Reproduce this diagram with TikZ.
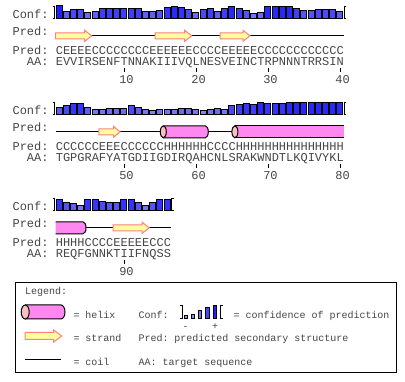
\documentclass[tikz,border=0pt]{standalone}
\usepackage{fontspec}
\setmonofont{Liberation Mono}
\definecolor{txt}{RGB}{70,70,70}
\definecolor{hfill}{RGB}{255,136,240}
\definecolor{hcap}{RGB}{248,192,192}
\definecolor{sfill}{RGB}{255,255,160}
\definecolor{sline}{RGB}{255,128,128}
\tikzset{
  mono/.style={font=\ttfamily\fontsize{12}{12}\selectfont, text=txt, inner sep=0pt, anchor=base west},
  lmono/.style={font=\ttfamily\fontsize{10}{10}\selectfont, text=txt, inner sep=0pt, anchor=base west},
  numlab/.style={font=\ttfamily\fontsize{12}{12}\selectfont, text=txt, inner sep=0pt, anchor=base},
  confbar/.style={draw=black, line width=0.8pt},
  brk/.style={draw=black, line width=0.8pt},
  coil/.style={draw=black, line width=1pt},
  tickmark/.style={draw=black, line width=1pt},
  strandarrow/.style={fill=sfill, draw=sline, line width=1pt, line join=miter},
  helixline/.style={draw=black, line width=1pt},
}
\newcommand\confrow[2]{%
  \foreach \h [count=\i] in {#2} {%
    \pgfmathsetmacro\xa{55.6+(\i-1)*7.2+0.4}%
    \pgfmathsetmacro\xb{\xa+6}%
    \pgfmathtruncatemacro\rv{130-100*min(1,max(0,(\h-4)/9))}%
    \pgfmathtruncatemacro\bv{240+15*min(1,max(0,(\h-4)/9))}%
    \definecolor{barc}{RGB}{\rv,\rv,\bv}%
    \draw[confbar, fill=barc] (\xa,18.5+#1) rectangle (\xb,18.5+#1-\h);
  }}
\newcommand\lbrk[3]{\draw[brk] (#1-2,#2-#3) -- (#1,#2-#3) -- (#1,#2) -- (#1-2,#2);}
\newcommand\rbrk[3]{\draw[brk] (#1+2,#2-#3) -- (#1,#2-#3) -- (#1,#2) -- (#1+2,#2);}
% strand arrow: x1, x2, yc, body half, head half, head length
\newcommand\strandshape[6]{\draw[strandarrow] (#1,#3-#4) -- (#2-#6,#3-#4) -- (#2-#6,#3-#5) -- (#2,#3) -- (#2-#6,#3+#5) -- (#2-#6,#3+#4) -- (#1,#3+#4) -- cycle;}
\begin{document}
\begin{tikzpicture}[x=1pt,y=-1pt]
\useasboundingbox (0,0) rectangle (405,382);
\fill[white] (0,0) rectangle (405,382);

% ---------------- Row 1 ----------------
\node[mono] (conf1) at (12.4,18.3) {Conf:};
\lbrk{54.5}{18.5}{12.5}
\confrow{0}{13,7,9,9,6,7,10,10,10,10,10,10,7,7,8,11,12,11,9,6,9,10,7,10,12,10,8,5,6,12,12,12,12,10,8,8,9,9,9,7}
\rbrk{344.4}{18.5}{12.5}
\node[mono] (predl1) at (12.4,36) {Pred:};
\coordinate (c1a) at (55.6,35.8);
\coordinate (c1b) at (343.6,35.8);
\draw[coil] (c1a) -- (c1b);
\strandshape{55.6}{91.7}{35.8}{3}{5.5}{7}
\strandshape{155}{191.7}{35.8}{3}{5.5}{7}
\strandshape{220}{250}{35.8}{3}{5.5}{7}
\node[mono] (pp1) at (12.4,54.5) {Pred:};
\node[mono] (ps1) at (55.6,54.5) {CEEEECCCCCCCCEEEEEECCCCEEEEECCCCCCCCCCCC};
\node[mono] (aal1) at (26.8,65.5) {AA:};
\node[mono] (aa1) at (55.6,65.5) {EVVIRSENFTNNAKIIIVQLNESVEINCTRPNNNTRRSIN};
\foreach \k/\lab in {10/10,20/20,30/30,40/40} {
  \draw[tickmark] (55.6+\k*7.2-3.6,68.5) -- (55.6+\k*7.2-3.6,71.8);
  \node[numlab] (n\lab) at (55.6+\k*7.2-1.1,84) {\lab};
}

% ---------------- Row 2 ----------------
\node[mono] (conf2) at (12.4,114.3) {Conf:};
\lbrk{54.5}{114.5}{12.5}
\confrow{96}{7,9,11,11,7,5,5,6,6,6,9,7,5,4,5,5,5,6,6,5,4,5,6,5,9,10,11,10,12,11,11,11,12,12,12,12,12,12,12,12}
\rbrk{344.4}{114.5}{12.5}
\node[mono] (predl2) at (12.4,132) {Pred:};
\coordinate (c2a) at (55.6,131.8);
\coordinate (c2b) at (163.3,131.8);
\coordinate (c2c) at (205.3,131.8);
\coordinate (c2d) at (234.9,131.8);
\draw[coil] (c2a) -- (c2b);
\draw[coil] (c2c) -- (c2d);
\strandshape{98.8}{120}{131.8}{3}{5.5}{6.5}
% helix 1
\fill[hfill] (163.3,125.8) -- (205.3,125.8) arc[start angle=90,end angle=-90,x radius=3pt,y radius=6pt] -- (163.3,137.8) -- cycle;
\draw[helixline] (163.3,125.8) -- (205.3,125.8) arc[start angle=90,end angle=-90,x radius=3pt,y radius=6pt] -- (163.3,137.8);
\draw[helixline, fill=hcap] (163.3,131.8) ellipse[x radius=3pt,y radius=6pt];
% helix 2
\fill[hfill] (234.9,125.8) rectangle (343.6,137.8);
\draw[helixline] (234.9,125.8) -- (343.6,125.8) (234.9,137.8) -- (343.6,137.8);
\draw[helixline, fill=hcap] (234.9,131.8) ellipse[x radius=3pt,y radius=6pt];
\node[mono] (pp2) at (12.4,150.5) {Pred:};
\node[mono] (ps2) at (55.6,150.5) {CCCCCCEEECCCCCCHHHHHHCCCCHHHHHHHHHHHHHHH};
\node[mono] (aal2) at (26.8,161.5) {AA:};
\node[mono] (aa2) at (55.6,161.5) {TGPGRAFYATGDIIGDIRQAHCNLSRAKWNDTLKQIVYKL};
\foreach \k/\lab in {10/50,20/60,30/70,40/80} {
  \draw[tickmark] (55.6+\k*7.2-3.6,164.5) -- (55.6+\k*7.2-3.6,167.8);
  \node[numlab] (n\lab) at (55.6+\k*7.2-1.1,180) {\lab};
}

% ---------------- Row 3 ----------------
\node[mono] (conf3) at (12.4,210.3) {Conf:};
\lbrk{54.5}{210.5}{12.5}
\confrow{192}{11,8,7,5,11,11,9,8,8,11,11,8,5,8,11,11}
\rbrk{171.6}{210.5}{12.5}
\node[mono] (predl3) at (12.4,228) {Pred:};
\coordinate (c3a) at (83,227.8);
\coordinate (c3b) at (170.8,227.8);
\draw[coil] (c3a) -- (c3b);
\fill[hfill] (55.6,221.8) -- (83,221.8) arc[start angle=90,end angle=-90,x radius=3pt,y radius=6pt] -- (55.6,233.8) -- cycle;
\draw[helixline] (55.6,221.8) -- (83,221.8) arc[start angle=90,end angle=-90,x radius=3pt,y radius=6pt] -- (55.6,233.8);
\strandshape{113.2}{149.2}{227.8}{3}{5.5}{7}
\node[mono] (pp3) at (12.4,246.5) {Pred:};
\node[mono] (ps3) at (55.6,246.5) {HHHHCCCCEEEEECCC};
\node[mono] (aal3) at (26.8,257.5) {AA:};
\node[mono] (aa3) at (55.6,257.5) {REQFGNNKTIIFNQSS};
\draw[tickmark] (55.6+10*7.2-3.6,260.5) -- (55.6+10*7.2-3.6,263.8);
\node[numlab] (n90) at (55.6+10*7.2-1.1,276) {90};

% ---------------- Legend ----------------
\draw[black, line width=1pt] (15,282.7) rectangle (396.7,372.7);
\node[lmono] (leg) at (25,294.7) {Legend:};
% helix symbol
\fill[hfill] (25.2,305) -- (61,305) arc[start angle=90,end angle=-90,x radius=4pt,y radius=7pt] -- (25.2,319) -- cycle;
\draw[helixline] (25.2,305) -- (61,305) arc[start angle=90,end angle=-90,x radius=4pt,y radius=7pt] -- (25.2,319);
\draw[helixline, fill=hcap] (25.2,312) ellipse[x radius=4pt,y radius=7pt];
\node[lmono] (lh) at (73.3,318.5) {= helix};
\node[lmono] (lc) at (138.3,318.5) {Conf:};
\lbrk{182}{318.3}{12.5}
\foreach \xx/\hh/\cc in {184/3/150, 191/3.5/140, 198/8/120, 205.5/11/70, 213/13/35} {
  \definecolor{lbarc}{RGB}{\cc,\cc,255}
  \draw[confbar, fill=lbarc] (\xx,318.3) rectangle (\xx+3.8,318.3-\hh);
}
\rbrk{220.5}{318.3}{12.5}
\node[lmono, anchor=base] (lminus) at (185.7,330) {-};
\node[lmono, anchor=base] (lplus) at (215,330) {+};
\node[lmono] (lcd) at (233.3,318.5) {= confidence of prediction};
% strand symbol
\strandshape{25}{61.7}{336}{3.5}{6}{8}
\node[lmono] (ls) at (73.3,342) {= strand};
\node[lmono] (lp) at (138.3,342) {Pred: predicted secondary structure};
% coil symbol
\coordinate (lca) at (25,360);
\coordinate (lcb) at (60.7,360);
\draw[coil] (lca) -- (lcb);
\node[lmono] (lco) at (73.3,365.5) {= coil};
\node[lmono] (laa) at (138.3,365.5) {AA: target sequence};
\end{tikzpicture}
\end{document}
